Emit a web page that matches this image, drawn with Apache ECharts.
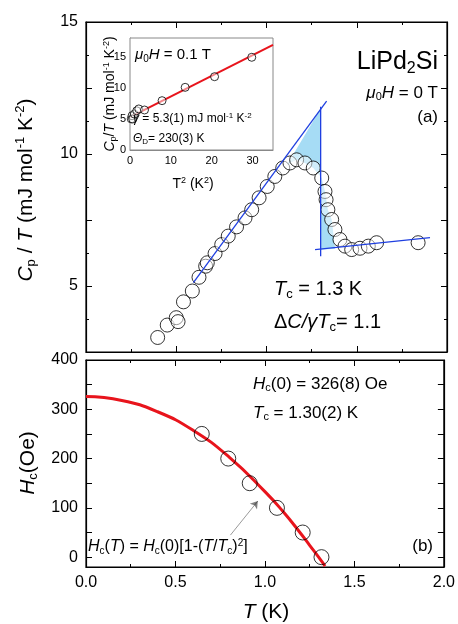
<!DOCTYPE html>
<html><head><meta charset="utf-8">
<script src="https://cdn.jsdelivr.net/npm/echarts@6/dist/echarts.min.js"></script>
<style>body{margin:0}#c{width:458px;height:624px}</style></head>
<body><div id="c"></div>
<script>
// Panel (a): Cp/T vs T
const cpT = [0.397,0.45,0.50,0.51,0.54,0.589,0.626,0.663,0.672,0.715,0.752,0.788,0.834,0.881,0.918,0.959,1.004,1.046,1.09,1.13,1.167,1.213,1.259,1.306,1.324,1.33,1.34,1.361,1.379,1.407,1.435,1.472,1.518,1.564,1.61,1.84];
const cpV = [3.05,3.52,3.80,3.65,4.40,4.81,5.33,5.75,5.88,6.23,6.57,6.89,7.24,7.58,7.89,8.34,8.77,9.15,9.47,9.66,9.78,9.66,9.47,9.09,8.58,8.27,7.89,7.52,7.14,6.76,6.51,6.38,6.43,6.51,6.64,6.64];
const riseLine = [[0.595,5.13],[1.333,12.0]];
const vertLine = [[1.30,11.79],[1.30,6.13]];
const normLine = [[1.269,6.38],[1.906,6.83]];
const shade = [[1.11,9.55],[1.30,11.72],[1.30,6.37],[1.38,6.41],[1.361,7.52],[1.34,7.89],[1.324,8.58],[1.306,9.09],[1.259,9.47],[1.213,9.66],[1.167,9.78],[1.13,9.66]];
// Inset: Cp/T vs T^2
const inT2 = [0.3,0.5,0.66,1.07,1.65,2.15,3.55,7.85,13.5,20.7,29.8];
const inV = [5.0,5.5,4.98,5.78,6.3,6.6,6.43,7.93,10.07,11.78,14.9];
const inFit = [[0,5.3],[35,16.9]];
// Panel (b): Hc vs T
const hcT = [0.647,0.795,0.915,1.067,1.211,1.316];
const hcV = [250,200,150,100,50,0];
const fitT = [0,0.2,0.4,0.6,0.8,1.0,1.1,1.2,1.25,1.3,1.336];
const fitH = [326,318,295,257,203,133,93,48,24,0,-18];
const arrow = [[0.807,44.7],[0.96,113.7]];
const hcTicks = [0,50,100,150,200,250,300,350,400];
const hcLabels = [0,100,200,300,400];

const F = 'Arial, "Liberation Sans", sans-serif';
const zip = (a,b)=>a.map((v,i)=>[v,b[i]]);
const ax = (o)=>Object.assign({axisLine:{show:true,onZero:false,lineStyle:{color:'#000',width:1.2}},axisTick:{inside:true,length:6,lineStyle:{color:'#000'}},minorTick:{show:true,splitNumber:2,length:3,lineStyle:{color:'#000'}},splitLine:{show:false},axisLabel:{color:'#000',fontFamily:F,fontSize:16}},o);
const noLab = {show:false};
function txtR(t,size,sub){const r={n:{fontSize:size,fontFamily:F},i:{fontSize:size,fontStyle:'italic',fontFamily:F},s:{fontSize:sub,fontFamily:F,verticalAlign:'bottom',padding:[sub*0.8,0,0,0]},p:{fontSize:sub,fontFamily:F,verticalAlign:'top',padding:[0,0,sub*0.8,0]}};return {text:t,rich:r,fill:'#000'};}

const chart = echarts.init(document.getElementById('c'));
const sym = {type:'scatter',symbol:'circle',symbolSize:14,itemStyle:{color:'rgba(255,255,255,0.6)',borderColor:'#000',borderWidth:1},z:4};
const hcAxis = (pos,lab)=>ax({gridIndex:1,position:pos,min:-20,max:400,minorTick:{show:false},axisTick:{inside:true,length:6,customValues:hcTicks,lineStyle:{color:'#000'}},axisLabel:lab?{color:'#000',fontFamily:F,fontSize:16,customValues:hcLabels}:noLab});
chart.setOption({
  animation:false,
  grid:[
    {left:86,top:22,width:361,height:330,show:true,borderColor:'#000',borderWidth:1.2},
    {left:86,top:360,width:361,height:207,show:true,borderColor:'#000',borderWidth:1.2},
    {left:130,top:38,width:143,height:112,show:true,borderColor:'#888',borderWidth:1,backgroundColor:'#fff',z:5}
  ],
  xAxis:[
    ax({gridIndex:0,min:0,max:2,interval:0.5,axisLabel:noLab}),
    ax({gridIndex:1,min:0,max:2,interval:0.5,axisLabel:{color:'#000',fontFamily:F,fontSize:16,formatter:v=>v.toFixed(1)}}),
    ax({gridIndex:2,min:0,max:35,interval:10,minorTick:{show:false},axisTick:{inside:true,length:4},axisLine:{show:true,onZero:false,lineStyle:{color:'#888'}},axisLabel:{color:'#000',fontFamily:F,fontSize:11,showMaxLabel:false,margin:5}}),
    ax({gridIndex:0,position:'top',min:0,max:2,interval:0.5,axisLabel:noLab}),
    ax({gridIndex:1,position:'top',min:0,max:2,interval:0.5,axisLabel:noLab})
  ],
  yAxis:[
    ax({gridIndex:0,min:2.5,max:15,interval:2.5,axisLabel:{color:'#000',fontFamily:F,fontSize:16,formatter:v=>(v%5===0?String(v):'')}}),
    hcAxis('left',true),
    ax({gridIndex:2,min:0,max:18,interval:5,minorTick:{show:false},axisTick:{inside:true,length:4},axisLine:{show:true,onZero:false,lineStyle:{color:'#888'}},axisLabel:{color:'#000',fontFamily:F,fontSize:11,margin:4,showMaxLabel:false}}),
    ax({gridIndex:0,position:'right',min:2.5,max:15,interval:2.5,axisLabel:noLab}),
    hcAxis('right',false)
  ],
  series:[
    {type:'custom',xAxisIndex:0,yAxisIndex:0,z:1,data:[0],renderItem:(p,api)=>({type:'polygon',shape:{points:shade.map(d=>api.coord(d))},style:{fill:'#a6dcf5'}})},
    {type:'line',xAxisIndex:0,yAxisIndex:0,data:riseLine,symbol:'none',lineStyle:{color:'#1f3fe0',width:1.3},z:5},
    {type:'line',xAxisIndex:0,yAxisIndex:0,data:vertLine,symbol:'none',lineStyle:{color:'#1f3fe0',width:1.3},z:5},
    {type:'line',xAxisIndex:0,yAxisIndex:0,data:normLine,symbol:'none',lineStyle:{color:'#1f3fe0',width:1.3},z:5},
    Object.assign({},sym,{xAxisIndex:0,yAxisIndex:0,data:zip(cpT,cpV)}),
    {type:'line',xAxisIndex:2,yAxisIndex:2,data:inFit,symbol:'none',lineStyle:{color:'#e8141c',width:2},z:7},
    Object.assign({},sym,{xAxisIndex:2,yAxisIndex:2,data:zip(inT2,inV),symbolSize:8,z:8}),
    {type:'line',xAxisIndex:1,yAxisIndex:1,data:zip(fitT,fitH),symbol:'none',smooth:true,lineStyle:{color:'#e8141c',width:3},z:3},
    Object.assign({},sym,{xAxisIndex:1,yAxisIndex:1,data:zip(hcT,hcV),symbolSize:15,itemStyle:{color:'transparent',borderColor:'#000',borderWidth:1}}),
    {type:'lines',coordinateSystem:'cartesian2d',xAxisIndex:1,yAxisIndex:1,data:[{coords:arrow}],symbol:['none','arrow'],symbolSize:7,lineStyle:{color:'#000',width:0.8},z:6}
  ],
  graphic:[
    {type:'text',x:26,y:190,rotation:Math.PI/2,style:Object.assign(txtR('{i|C}{s|p}{n| / }{i|T}{n| (mJ mol}{p|-1}{n| K}{p|-2}{n|)}',21,13),{align:'center',verticalAlign:'middle'})},
    {type:'text',x:28,y:463,rotation:Math.PI/2,style:Object.assign(txtR('{i|H}{s|c}{n|(Oe)}',21,13),{align:'center',verticalAlign:'middle'})},
    {type:'text',x:266,y:612,style:Object.assign(txtR('{i|T}{n| (K)}',21,13),{align:'center',verticalAlign:'middle'})},
    {type:'text',x:438,y:62,style:Object.assign(txtR('{n|LiPd}{s|2}{n|Si}',25,16),{align:'right',verticalAlign:'middle'})},
    {type:'text',x:438,y:93,style:Object.assign(txtR('{i|μ}{s|0}{i|H}{n| = 0 T}',17,11),{align:'right',verticalAlign:'middle'})},
    {type:'text',x:438,y:117,style:Object.assign(txtR('{n|(a)}',17,11),{align:'right',verticalAlign:'middle'})},
    {type:'text',x:274,y:289,style:Object.assign(txtR('{i|T}{s|c}{n| = 1.3 K}',20,13),{verticalAlign:'middle'})},
    {type:'text',x:274,y:322,style:Object.assign(txtR('{n|Δ}{i|C/γT}{s|c}{n|= 1.1}',20,13),{verticalAlign:'middle'})},
    {type:'text',x:253,y:384,style:Object.assign(txtR('{i|H}{s|c}{n|(0) = 326(8) Oe}',17,11),{verticalAlign:'middle'})},
    {type:'text',x:253,y:413,style:Object.assign(txtR('{i|T}{s|c}{n| = 1.30(2) K}',17,11),{verticalAlign:'middle'})},
    {type:'text',x:88,y:547,style:Object.assign(txtR('{i|H}{s|c}{n|(}{i|T}{n|) = }{i|H}{s|c}{n|(0)[1-(}{i|T}{n|/}{i|T}{s|c}{n|)}{p|2}{n|]}',16,10),{verticalAlign:'middle'})},
    {type:'text',x:433,y:546,style:Object.assign(txtR('{n|(b)}',17,11),{align:'right',verticalAlign:'middle'})},
    {type:'text',x:135,y:55,z:20,style:Object.assign(txtR('{i|μ}{s|0}{i|H}{n| = 0.1 T}',15,10),{verticalAlign:'middle'})},
    {type:'text',x:133,y:119,z:20,style:Object.assign(txtR('{i|γ}{n| = 5.3(1) mJ mol}{p|-1}{n| K}{p|-2}',12,8),{verticalAlign:'middle'})},
    {type:'text',x:133,y:139,z:20,style:Object.assign(txtR('{i|Θ}{s|D}{n|= 230(3) K}',12,8),{verticalAlign:'middle'})},
    {type:'text',x:110,y:94,z:20,rotation:Math.PI/2,style:Object.assign(txtR('{i|C}{s|p}{n|/}{i|T}{n| (mJ mol}{p|-1}{n| K}{p|-2}{n|)}',14,9),{align:'center',verticalAlign:'middle'})},
    {type:'text',x:193,y:184,z:20,style:Object.assign(txtR('{n|T}{p|2}{n| (K}{p|2}{n|)}',14,9),{align:'center',verticalAlign:'middle'})}
  ]
});
</script></body></html>
